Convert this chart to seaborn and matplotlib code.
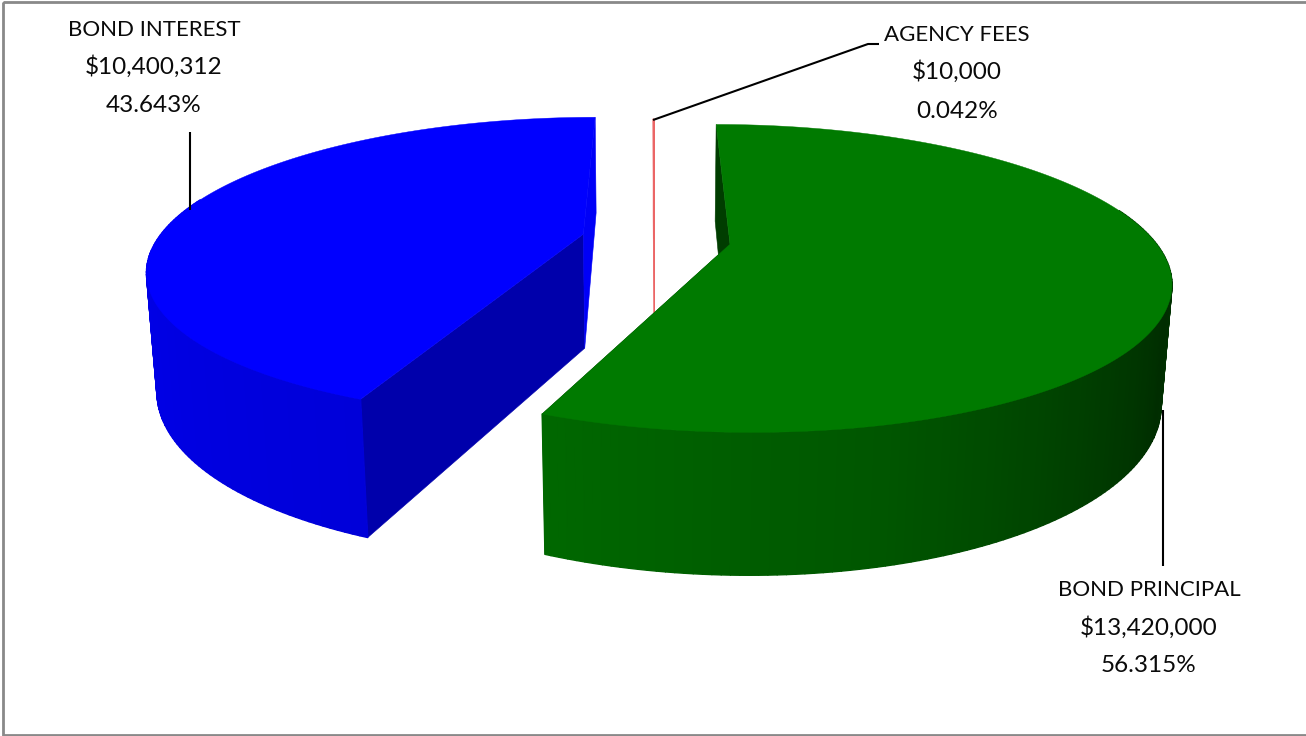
import numpy as np
import matplotlib
matplotlib.use("Agg")
import matplotlib.pyplot as plt
from matplotlib.collections import PolyCollection
from matplotlib.patches import Rectangle
import seaborn as sns

# Budget shares, clockwise from twelve o'clock
categories = ["AGENCY FEES", "BOND PRINCIPAL", "BOND INTEREST"]
amounts = [10000, 13420000, 10400312]
percent_labels = ["0.042%", "56.315%", "43.643%"]
amount_labels = ["$10,000", "$13,420,000", "$10,400,312"]
slice_colors = [(0.92, 0.40, 0.40), (0.0, 0.478, 0.0), (0.0, 0.0, 1.0)]
explode = [0.0, 0.178, 0.168]
radius = [1.0, 0.98, 0.985]

# Wall lighting by angle around the disc
light_angle = [90, 115, 135, 165, 202, 270]
light_level = [0.48, 0.37, 0.49, 0.70, 0.85, 0.92]

# Camera and disc settings, in pixels
X0, Y0 = 654.0, 239.0
RX, RY = 432.0, 147.0
WALL = 117.0
PERSP = 0.225
WALL_PERSP = 0.02

sns.set_theme(style="white")
plt.rcParams["font.family"] = ["Lato", "DejaVu Sans"]

fig = plt.figure(figsize=(13.06, 7.36), dpi=100, facecolor="white")
ax = fig.add_axes([0, 0, 1, 1])
ax.set_xlim(0, 1306)
ax.set_ylim(736, 0)
ax.axis("off")


def project(u, v, low=False):
    """Perspective projection of a disc point, on the top or bottom face."""
    u, v = np.asarray(u, float), np.asarray(v, float)
    w = 1 + PERSP * v + (WALL_PERSP if low else 0)
    return X0 + RX * u / w, Y0 + (-RY * v + (WALL if low else 0)) / w


def wall_shade(theta):
    return np.interp(theta, light_angle, light_level)


def scaled(color, f):
    return tuple(min(1, c * f) for c in color)


total = sum(amounts)
edges = np.cumsum([0] + [a / total * 360 for a in amounts]) - amounts[0] / total * 360

# brightness of the cut faces at the start and end of each slice
start_shade = [1.0, 0.5, 0.67]
end_shade = [1.0, 0.5, 0.97]

order = [0, 2, 1]  # rear slices first
for z, i in enumerate(order):
    color = slice_colors[i]
    a0, a1 = edges[i], edges[i + 1]
    mid = np.radians((a0 + a1) / 2)
    cu, cv = explode[i] * np.sin(mid), explode[i] * np.cos(mid)
    th = np.append(np.arange(a0, a1, 1.0), a1)
    u = cu + radius[i] * np.sin(np.radians(th))
    v = cv + radius[i] * np.cos(np.radians(th))
    tx, ty = project(u, v)
    bx, by = project(u, v, low=True)
    apex_t = project(cu, cv)
    apex_b = project(cu, cv, low=True)

    # flat cut faces running to the centre
    for idx, f in ((0, start_shade[i]), (-1, end_shade[i])):
        ax.fill([tx[idx], apex_t[0], apex_b[0], bx[idx]],
                [ty[idx], apex_t[1], apex_b[1], by[idx]],
                color=scaled(color, f), lw=0.4, zorder=2 + z * 3)

    # outer wall: only the part turned towards the camera, far quads first
    quads, shades = [], []
    for k in np.argsort(-v[:-1]):
        mid_th = (th[k] + th[k + 1]) / 2
        if np.cos(np.radians(mid_th)) < 0.25:
            quads.append([(tx[k], ty[k]), (tx[k + 1], ty[k + 1]),
                          (bx[k + 1], by[k + 1]), (bx[k], by[k])])
            shades.append(scaled(color, wall_shade(mid_th)))
    if quads:
        ax.add_collection(PolyCollection(quads, facecolors=shades, edgecolors=shades,
                                         linewidths=1.0, zorder=3 + z * 3))

    # top face
    ax.fill(np.r_[apex_t[0], tx], np.r_[apex_t[1], ty],
            color=color, lw=0.8 if i == 0 else 0.3, zorder=4 + z * 3)

# Leader lines
leader_style = dict(color="black", lw=1.5, zorder=20, solid_capstyle="butt")
ax.plot([653, 868, 879], [120, 44, 44], **leader_style)
ax.plot([190, 190], [132, 210], **leader_style)
ax.plot([1163, 1163], [410, 566], **leader_style)

# Data labels: category name, amount, share
label_x = [957, 1149, 154]
label_y = [[35, 72, 112], [590, 628, 666], [30, 67, 106]]
label_size = [16, 17.5, 17.5]
for i, name in enumerate(categories):
    lines = (name, amount_labels[i], percent_labels[i])
    for text, y, size in zip(lines, label_y[i], label_size):
        ax.text(label_x[i], y, text, ha="center", va="center", fontsize=size,
                color="#0a0a0a", zorder=21)

# Chart frame
ax.add_patch(Rectangle((3, 2), 1310, 733, fill=False, ec="#898989", lw=2, zorder=30,
                       clip_on=False))

fig.savefig("out.png", dpi=100, facecolor="white")
